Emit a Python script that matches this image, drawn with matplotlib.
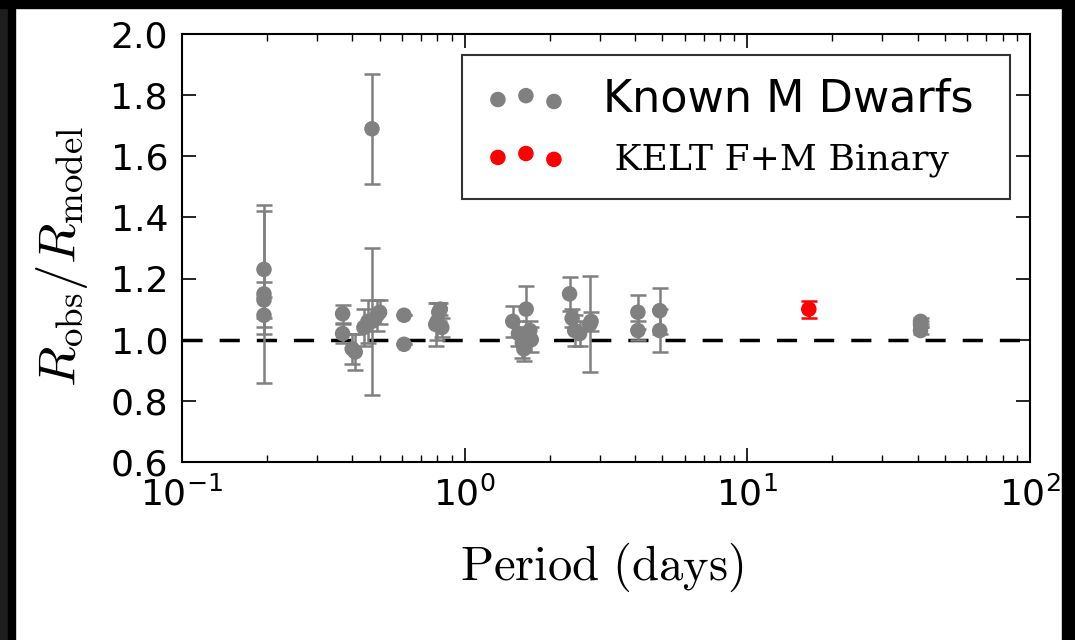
import matplotlib
matplotlib.use("Agg")
import matplotlib.pyplot as plt
from matplotlib.patches import Rectangle
import numpy as np

plt.rcParams['mathtext.fontset'] = 'cm'
plt.rcParams['font.family'] = ['DejaVu Sans']

# Known M dwarfs: period (days), R_obs/R_model, error
md_period = [0.195, 0.195, 0.195, 0.195, 0.37, 0.37, 0.40, 0.41, 0.44, 0.455,
             0.47, 0.47, 0.49, 0.50, 0.61, 0.61, 0.79, 0.81, 0.82, 0.83, 0.80,
             1.48, 1.55, 1.60, 1.62, 1.65, 1.70, 1.72,
             2.35, 2.40, 2.45, 2.55, 2.77, 2.80,
             4.1, 4.1, 4.9, 4.9, 41.0, 41.0, 41.0]
md_ratio = [1.23, 1.15, 1.13, 1.08, 1.085, 1.02, 0.97, 0.96, 1.04, 1.06,
            1.06, 1.69, 1.08, 1.09, 1.08, 0.985, 1.05, 1.09, 1.10, 1.04, 1.06,
            1.06, 1.02, 0.99, 0.97, 1.10, 1.03, 1.00,
            1.15, 1.07, 1.03, 1.02, 1.05, 1.06,
            1.09, 1.03, 1.095, 1.03, 1.03, 1.05, 1.06]
md_err = [0.19, 0.29, 0.06, 0.06, 0.03, 0.03, 0.05, 0.06, 0.06, 0.07,
          0.24, 0.18, 0.05, 0.04, 0.0, 0.0, 0.07, 0.03, 0.02, 0.03, 0.06,
          0.05, 0.04, 0.05, 0.04, 0.075, 0.03, 0.04,
          0.055, 0.03, 0.05, 0.04, 0.157, 0.03,
          0.055, 0.03, 0.075, 0.07, 0.01, 0.01, 0.01]

# KELT F+M binary
kelt_period = [16.5]
kelt_ratio = [1.10]
kelt_err = [0.028]

fig = plt.figure(figsize=(10.75, 6.4), dpi=100)
ax = fig.add_axes([182/1075, (640-462)/640, 848/1075, 428/640])

ax.errorbar(md_period, md_ratio, yerr=md_err, fmt='none', ecolor='gray',
            elinewidth=1.8, capsize=5.5, capthick=1.8, zorder=2)
ax.scatter(md_period, md_ratio, s=125, color='gray', edgecolors='none',
           zorder=3, label='Known M Dwarfs ')
ax.errorbar(kelt_period, kelt_ratio, yerr=kelt_err, fmt='none', ecolor='red',
            elinewidth=1.8, capsize=5.5, capthick=1.8, zorder=4)
ax.scatter(kelt_period, kelt_ratio, s=125, color='red', edgecolors='none',
           zorder=5, label=' KELT F+M Binary')

ax.axhline(1.0, color='black', ls=(0, (5.8, 4.9)), lw=2.5, zorder=1)

ax.set_xscale('log')
ax.set_xlim(0.1, 100)
ax.set_ylim(0.6, 2.0)
ax.set_yticks(np.arange(0.6, 2.01, 0.2))
ax.set_yticklabels(['%.1f' % v for v in np.arange(0.6, 2.01, 0.2)])

ax.tick_params(which='both', direction='in', top=True, right=True,
               labelsize=26, colors='black')
ax.tick_params(which='major', length=10, width=1.2)
ax.tick_params(which='minor', length=5, width=1.0)
ax.tick_params(axis='y', which='major', pad=10)
ax.tick_params(axis='x', which='major', pad=10)
for sp in ax.spines.values():
    sp.set_linewidth(1.5)

ax.set_xlabel(r'$\mathrm{Period\ (days)}$', fontsize=35)
ax.xaxis.set_label_coords(0.495, -0.185)
ax.set_ylabel(r'$R_{\rm obs}/R_{\rm model}$', fontsize=38)
ax.yaxis.set_label_coords(-0.108, 0.48)

leg = ax.legend(loc='upper right', scatterpoints=3, markerscale=1.0,
                fontsize=32, frameon=True, fancybox=False,
                bbox_to_anchor=(0.976, 0.951), borderaxespad=0,
                borderpad=0.5, handletextpad=0.8, labelspacing=0.4,
                handlelength=1.86)
leg.get_frame().set_edgecolor('black')
leg.get_frame().set_linewidth(1.5)
texts = leg.get_texts()
texts[1].set_fontfamily('DejaVu Serif')
texts[1].set_fontsize(26)

# dark frame around the picture
fig.patches.append(Rectangle((0, 0), 8/1075, 1, transform=fig.transFigure,
                             color='#1e1e1e', zorder=-1))
fig.patches.append(Rectangle((8/1075, 0), 7/1075, 1, transform=fig.transFigure,
                             color='black', zorder=-1))
fig.patches.append(Rectangle((0, 1 - 8/640), 1, 8/640, transform=fig.transFigure,
                             color='black', zorder=-1))
fig.patches.append(Rectangle((1062/1075, 0), 13/1075, 1, transform=fig.transFigure,
                             color='black', zorder=-1))

fig.savefig('out.png', dpi=100)
